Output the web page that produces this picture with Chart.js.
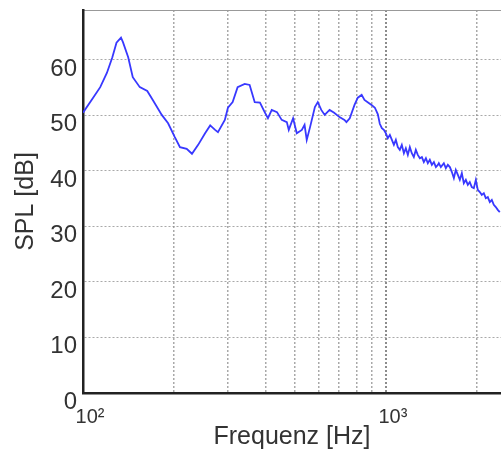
<!DOCTYPE html>
<html>
<head>
<meta charset="utf-8">
<script src="https://cdn.jsdelivr.net/npm/chart.js@4/dist/chart.umd.min.js"></script>
<style>
  html, body { margin: 0; padding: 0; background: #fff; }
  canvas { display: block; }
</style>
</head>
<body>
<canvas id="spl" width="501" height="450"></canvas>
<script>
// Measured response: frequency (Hz) and sound pressure level (dB)
const freqHz = [
  100, 108, 114, 120, 125, 129, 133.5, 135.5, 141, 146, 154, 163, 170, 182, 191,
  201, 209, 220, 229, 240, 253, 263, 273, 279, 294, 301, 312, 324, 342, 355,
  369, 384, 398, 408, 420, 437, 453, 471, 478, 494, 508, 528, 539, 548, 562,
  583, 596, 612, 628, 652, 675, 703, 730, 741, 760, 788, 808, 832, 850, 871,
  897, 920, 941, 955, 970, 985, 1000, 1015, 1031, 1047, 1063, 1079, 1095, 1112,
  1129, 1147, 1164, 1182, 1200, 1218, 1237, 1256, 1275, 1295, 1315, 1335, 1356,
  1376, 1397, 1419, 1441, 1463, 1485, 1496, 1519, 1554, 1578, 1602, 1627, 1652,
  1677, 1702, 1729, 1755, 1782, 1809, 1837, 1865, 1893, 1922, 1952, 1982, 2012,
  2043, 2074, 2106, 2138, 2171, 2204, 2238, 2272, 2307, 2342, 2378
];
const splDb = [
  50.5, 53.2, 55.1, 57.7, 60.5, 63.1, 64.0, 63.2, 60.5, 56.9, 55.1, 54.4, 52.8, 50.1, 48.6,
  46.1, 44.3, 44.0, 43.1, 44.7, 46.8, 48.2, 47.4, 47.0, 49.2, 51.4, 52.4, 55.1, 55.7, 55.5,
  52.4, 52.3, 50.6, 49.5, 51.0, 50.6, 49.2, 48.8, 47.4, 49.5, 46.8, 47.4, 48.3, 45.6, 47.9,
  51.5, 52.4, 51.0, 50.1, 51.0, 50.5, 49.7, 49.2, 48.8, 49.5, 51.9, 53.2, 53.7, 52.8, 52.4,
  51.9, 51.4, 50.2, 48.5, 47.7, 47.4, 46.8, 45.9, 46.5, 45.6, 44.7, 45.6, 44.3, 43.8,
  44.7, 43.2, 44.1, 42.9, 44.3, 43.2, 42.5, 43.8, 42.9, 42.3, 42.5, 41.6, 42.3,
  41.4, 42.0, 41.1, 41.6, 40.7, 41.1, 41.4, 40.7, 41.4, 40.5, 41.1, 40.7, 39.8,
  38.7, 40.2, 39.3, 38.4, 39.6, 37.8, 38.4, 37.5, 38.0, 37.1, 36.9, 38.4, 36.6,
  36.2, 35.7, 36.0, 35.1, 35.3, 34.4, 34.8, 33.9, 33.5, 33.0, 32.6
];

// Axis ticks
const xTickValues = [100, 200, 300, 400, 500, 600, 700, 800, 900, 1000, 2000];
const xTickLabels = { 100: '10\u00B2', 1000: '10\u00B3' };
const yTickValues = [0, 10, 20, 30, 40, 50, 60];

const xMin = 100, xMax = 2400;
const yMin = 0, yMax = 69;

const points = freqHz.map((f, i) => ({ x: f, y: splDb[i] }));

const gridGray = 'rgba(140,140,140,0.75)';
const textColor = '#333';
const fontFamily = '"Liberation Sans", Arial, sans-serif';

new Chart(document.getElementById('spl'), {
  type: 'line',
  data: {
    datasets: [{
      data: points,
      borderColor: '#3838ff',
      borderWidth: 1.8,
      pointRadius: 0,
      tension: 0,
      fill: false
    }]
  },
  options: {
    responsive: false,
    animation: false,
    layout: { padding: { top: 10, right: 0, bottom: 0, left: 0 } },
    plugins: { legend: { display: false }, tooltip: { enabled: false } },
    scales: {
      x: {
        type: 'logarithmic',
        position: 'bottom',
        min: xMin,
        max: xMax,
        afterBuildTicks: s => { s.ticks = xTickValues.map(v => ({ value: v })); },
        afterFit: s => { s.height = 57; s.paddingLeft = 0; s.paddingRight = 0; },
        grid: {
          drawTicks: false,
          color: ctx => ctx.tick && ctx.tick.value === 1000 ? 'rgba(120,120,120,0.85)' : gridGray,
          lineWidth: ctx => ctx.tick && ctx.tick.value === 1000 ? 2 : 1.5
        },
        border: { display: true, color: '#222', width: 2.5, dash: [2, 2] },
        ticks: {
          autoSkip: false,
          maxRotation: 0,
          padding: 12,
          labelOffset: 7,
          color: textColor,
          font: { family: fontFamily, size: 20 },
          callback: v => xTickLabels[v] || ''
        },
        title: {
          display: true,
          text: 'Frequenz [Hz]',
          color: textColor,
          font: { family: fontFamily, size: 25, lineHeight: 1 },
          padding: { top: 0, bottom: 0 }
        }
      },
      xTop: {
        type: 'logarithmic',
        position: 'top',
        min: xMin,
        max: xMax,
        afterFit: s => { s.height = 0; s.paddingLeft = 0; s.paddingRight = 0; },
        grid: { display: false, drawTicks: false },
        ticks: { display: false },
        border: { display: true, color: '#999', width: 1 }
      },
      y: {
        type: 'linear',
        min: yMin,
        max: yMax,
        afterBuildTicks: s => { s.ticks = yTickValues.map(v => ({ value: v })); },
        afterFit: s => { s.width = 83; s.paddingTop = 0; s.paddingBottom = 0; },
        grid: { drawTicks: false, color: gridGray, lineWidth: 1 },
        border: { display: true, color: '#222', width: 2.5, dash: [2, 2] },
        ticks: {
          padding: 6,
          labelOffset: 9,
          color: textColor,
          font: { family: fontFamily, size: 24 }
        },
        title: {
          display: true,
          text: 'SPL [dB]',
          color: textColor,
          font: { family: fontFamily, size: 25, lineHeight: 1 },
          padding: { top: 14, bottom: 0 }
        }
      }
    }
  }
});
</script>
</body>
</html>
